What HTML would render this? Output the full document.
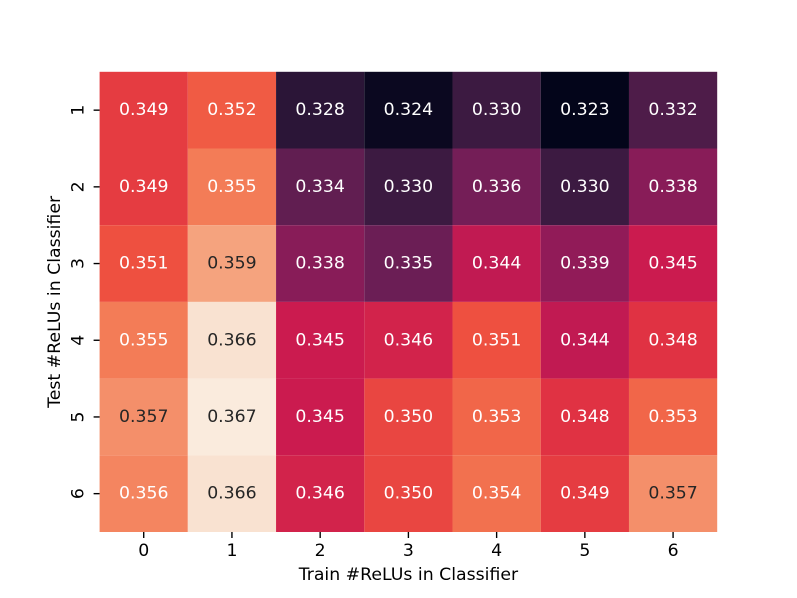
<!DOCTYPE html>
<html lang="en">
<head>
<meta charset="utf-8">
<title>Heatmap</title>
<style>
html,body{margin:0;padding:0;background:#fff;}
svg{display:block;}
text{font-family:"DejaVu Sans",sans-serif;font-size:17.3px;}
</style>
</head>
<body>
<svg id="chart" width="797" height="598" viewBox="0 0 797 598" xmlns="http://www.w3.org/2000/svg"></svg>
<script>
const xCategories = ['0','1','2','3','4','5','6'];
const yCategories = ['1','2','3','4','5','6'];
const row1 = [0.349,0.352,0.328,0.324,0.330,0.323,0.332];
const row2 = [0.349,0.355,0.334,0.330,0.336,0.330,0.338];
const row3 = [0.351,0.359,0.338,0.335,0.344,0.339,0.345];
const row4 = [0.355,0.366,0.345,0.346,0.351,0.344,0.348];
const row5 = [0.357,0.367,0.345,0.350,0.353,0.348,0.353];
const row6 = [0.356,0.366,0.346,0.350,0.354,0.349,0.357];
const rows = [row1,row2,row3,row4,row5,row6];
const xAxisTitle = 'Train #ReLUs in Classifier';
const yAxisTitle = 'Test #ReLUs in Classifier';

const NS = 'http://www.w3.org/2000/svg';
const svg = document.getElementById('chart');
const plot = {left:99.6, right:717.2, top:71.8, bottom:532};
const ink = '#000';
const stops = [[3,5,26],[53,25,62],[112,31,87],[173,23,89],[203,27,79],[225,51,66],[239,83,64],[243,118,81],[246,180,143],[250,235,221]];
const stopPos = [0,1/7,2/7,3/7,0.5,4/7,0.643,5/7,6/7,1];

function make(tag, attrs, parent){
  const el = document.createElementNS(NS, tag);
  for (const k in attrs) el.setAttribute(k, attrs[k]);
  (parent || svg).appendChild(el);
  return el;
}
const allValues = rows.flat();
const vMin = Math.min(...allValues);
const vMax = Math.max(...allValues);
function xScale(i){ return plot.left + (plot.right - plot.left) * i / xCategories.length; }
function yScale(i){ return plot.top + (plot.bottom - plot.top) * i / yCategories.length; }
function norm(v){ return (v - vMin) / (vMax - vMin); }
function rocket(t){
  t = Math.max(0, Math.min(1, t));
  let i = 0;
  while (i < stopPos.length - 2 && t > stopPos[i+1]) i++;
  const f = (t - stopPos[i]) / (stopPos[i+1] - stopPos[i]);
  const c = stops[i].map((s, j) => Math.round(s + (stops[i+1][j] - s) * f));
  return 'rgb(' + c.join(',') + ')';
}

const cellGroup = make('g', {});


rows.forEach((row, r) => {
  row.forEach((v, c) => {
    const x0 = xScale(c), x1 = xScale(c + 1), y0 = yScale(r), y1 = yScale(r + 1);
    const rect = make('rect', {x:x0, y:y0, width:x1 - x0, height:y1 - y0, fill:rocket(norm(v))}, cellGroup);
    
    
    const label = make('text', {x:(x0 + x1) / 2, y:(y0 + y1) / 2 + 5, 'text-anchor':'middle', fill: norm(v) > 0.76 ? '#262626' : '#ffffff'}, cellGroup);
    
    
    label.textContent = v.toFixed(3);
  });
});

xCategories.forEach((cat, i) => {
  const x = (xScale(i) + xScale(i + 1)) / 2;
  const tick = make('line', {x1:x, x2:x, y1:plot.bottom, y2:plot.bottom + 6, stroke:ink, 'stroke-width':1.38});
  
  
  const label = make('text', {x:x, y:556, 'text-anchor':'middle', fill:ink});
  
  
  label.textContent = cat;
});

yCategories.forEach((cat, i) => {
  const y = (yScale(i) + yScale(i + 1)) / 2;
  const tick = make('line', {x1:plot.left - 6, x2:plot.left, y1:y, y2:y, stroke:ink, 'stroke-width':1.38});
  
  
  const label = make('text', {x:0, y:0, 'text-anchor':'middle', fill:ink, transform:'translate(83.5 ' + y + ') rotate(-90)'});
  
  
  label.textContent = cat;
});

const xTitle = make('text', {x:(plot.left + plot.right) / 2, y:580, 'text-anchor':'middle', fill:ink});


xTitle.textContent = xAxisTitle;

const yTitle = make('text', {x:0, y:0, 'text-anchor':'middle', fill:ink, transform:'translate(60 ' + (plot.top + plot.bottom) / 2 + ') rotate(-90)'});


yTitle.textContent = yAxisTitle;
</script>
</body>
</html>
